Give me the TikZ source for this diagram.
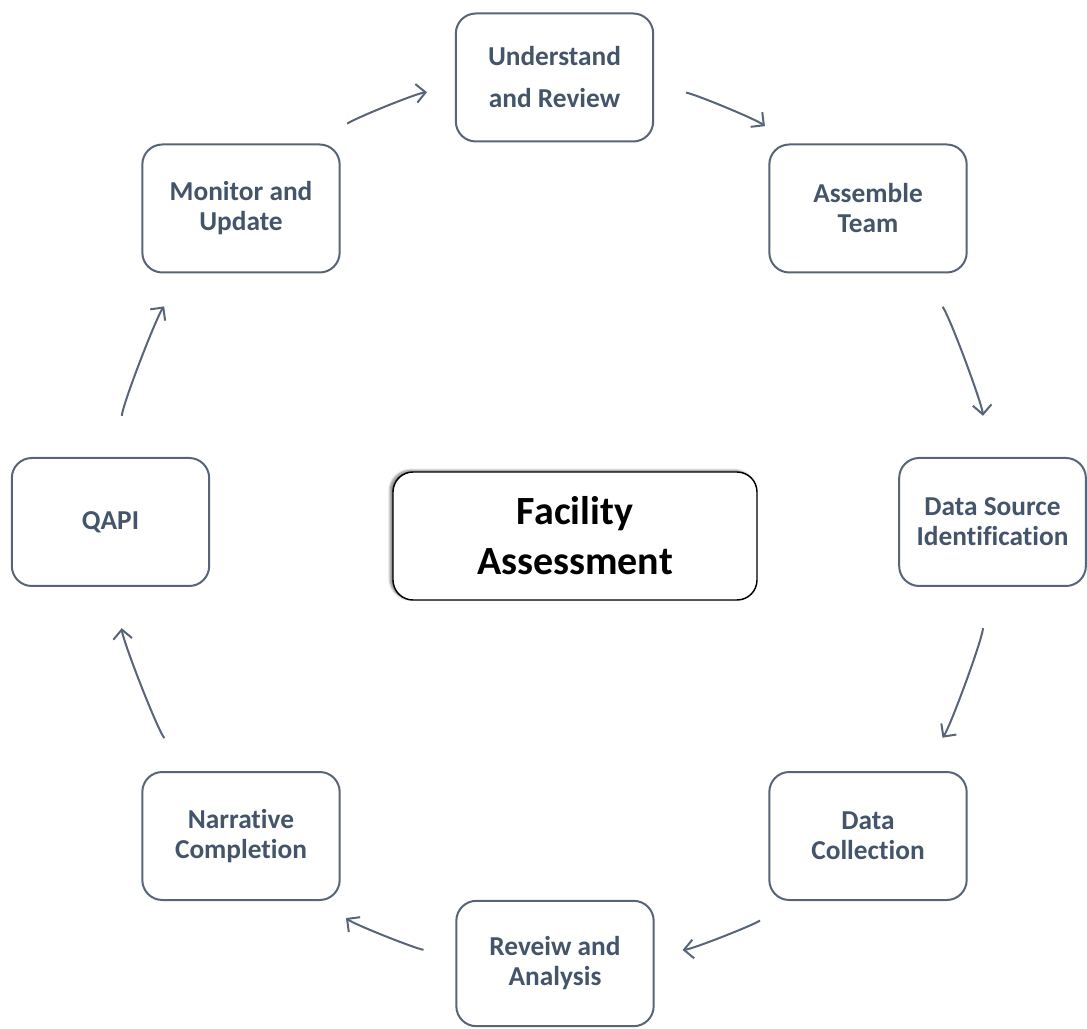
\documentclass[tikz,border=0pt]{standalone}
\usepackage{fontspec}
\setmainfont[Ligatures=NoCommon]{Carlito}
\usetikzlibrary{arrows.meta,shadows.blur}

\definecolor{slate}{RGB}{68,84,106}
\definecolor{edge}{RGB}{88,100,120}

\begin{document}
\begin{tikzpicture}[x=0.75pt, y=0.75pt,
	step box/.style = {draw=edge, line width=1.5pt, rounded corners=15pt, fill=white,
		minimum width=148pt, minimum height=96pt, align=center, text=slate,
		font=\fontsize{20.5}{22.5}\selectfont\bfseries},
	hub/.style = {draw=black, line width=1.1pt, rounded corners=15pt, fill=white,
		minimum width=273pt, minimum height=96pt, align=center,
		font=\fontsize{30}{37.5}\selectfont\bfseries,
		blur shadow={shadow xshift=-2pt, shadow yshift=1pt, shadow blur steps=8, shadow opacity=55}},
	flow/.style = {draw=edge, line width=1.5pt, -{Straight Barb[length=7pt,width=14pt,line width=1.5pt]}, looseness=0.7},
	near/.style = {shorten <=24pt, shorten >=21pt},
	far/.style = {shorten <=31pt, shorten >=31pt}]
	\useasboundingbox (0,0) rectangle (1087,1028);

	\node[hub] (fac) at (575,492) {Facility\\Assessment};

	\node[step box] (und) at (554.5,950.5) {Understand\\[9pt]and Review};
	\node[step box] (ass) at (868,819.5) {Assemble\\Team};
	\node[step box, minimum width=140pt] (dsi) at (992.5,506) {Data Source\\Identification};
	\node[step box] (dcol) at (868,192) {Data\\Collection};
	\node[step box, minimum height=94pt] (rev) at (555,64.5) {Reveiw and\\Analysis};
	\node[step box] (nar) at (241,192) {Narrative\\Completion};
	\node[step box] (qapi) at (110.5,506) {QAPI};
	\node[step box] (mon) at (241,819.5) {Monitor and\\Update};

	% cycle
	\draw[flow, near] (mon) to[bend left=16] (und);
	\draw[flow, near] (und) to[bend left=16] (ass);
	\draw[flow, far] (ass) to[bend left=16] (dsi);
	\draw[flow, far] (dsi) to[bend left=16] (dcol);
	\draw[flow, near] (dcol) to[bend left=16] (rev);
	\draw[flow, near] (rev) to[bend left=16] (nar);
	\draw[flow, far] (nar) to[bend left=16] (qapi);
	\draw[flow, far] (qapi) to[bend left=16] (mon);
\end{tikzpicture}
\end{document}
